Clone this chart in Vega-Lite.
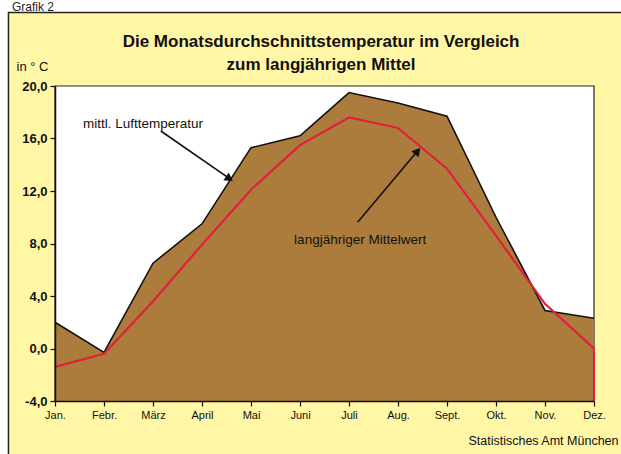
{
  "$schema": "https://vega.github.io/schema/vega-lite/v6.json",
  "width": 539,
  "height": 315,
  "autosize": {"type": "none"},
  "padding": {"left": 55, "top": 86, "right": 27, "bottom": 53},
  "background": "white",
  "datasets": {
    "one": [{}],
    "temps": [
      {"m": 1, "actual": 2.0, "mean": -1.4},
      {"m": 2, "actual": -0.3, "mean": -0.4},
      {"m": 3, "actual": 6.5, "mean": 3.6},
      {"m": 4, "actual": 9.5, "mean": 7.9},
      {"m": 5, "actual": 15.3, "mean": 12.1},
      {"m": 6, "actual": 16.2, "mean": 15.5},
      {"m": 7, "actual": 19.5, "mean": 17.6},
      {"m": 8, "actual": 18.7, "mean": 16.8},
      {"m": 9, "actual": 17.7, "mean": 13.7},
      {"m": 10, "actual": 10.0, "mean": 8.6},
      {"m": 11, "actual": 2.9, "mean": 3.4},
      {"m": 12, "actual": 2.3, "mean": 0.0}
    ],
    "notes": [
      {"m": 1.57, "t": 17.1, "label": "mittl. Lufttemperatur"},
      {"m": 5.88, "t": 8.27, "label": "langjähriger Mittelwert"}
    ],
    "arrows": [
      {"id": "a", "o": 1, "m": 3.16, "t": 16.57},
      {"id": "a", "o": 2, "m": 4.6, "t": 12.85},
      {"id": "b", "o": 1, "m": 7.18, "t": 9.64},
      {"id": "b", "o": 2, "m": 8.42, "t": 15.15}
    ],
    "heads": [
      {"id": "a", "m": 4.56, "t": 12.93},
      {"id": "b", "m": 8.40, "t": 15.04}
    ]
  },
  "layer": [
    {
      "data": {"name": "one"},
      "mark": {"type": "rect", "fill": "#FFF6A6", "stroke": "#222222", "strokeWidth": 1.5, "clip": false},
      "encoding": {
        "x": {"datum": 0.05, "type": "quantitative"},
        "x2": {"datum": 13.5},
        "y": {"datum": 25.6, "type": "quantitative"},
        "y2": {"datum": -10}
      }
    },
    {
      "data": {"name": "one"},
      "mark": {"type": "rect", "fill": "white", "stroke": "#222222", "strokeWidth": 1.2},
      "encoding": {
        "x": {"datum": 1, "type": "quantitative"},
        "x2": {"datum": 12},
        "y": {"datum": 20, "type": "quantitative"},
        "y2": {"datum": -4}
      }
    },
    {
      "data": {"name": "temps"},
      "mark": {"type": "area", "color": "#AC7C3D", "opacity": 1},
      "encoding": {
        "x": {
          "field": "m", "type": "quantitative",
          "scale": {"domain": [1, 12], "nice": false, "zero": false},
          "axis": {
            "values": [1, 2, 3, 4, 5, 6, 7, 8, 9, 10, 11, 12],
            "labelExpr": "['Jan.','Febr.','März','April','Mai','Juni','Juli','Aug.','Sept.','Okt.','Nov.','Dez.'][datum.value-1]",
            "title": "Statistisches Amt München",
            "zindex": 1
          }
        },
        "y": {
          "field": "actual", "type": "quantitative",
          "scale": {"domain": [-4, 20], "nice": false, "zero": false},
          "axis": {
            "values": [-4, 0, 4, 8, 12, 16, 20],
            "labelExpr": "replace(replace(format(datum.value, '.1f'), '.', ','), '−', '-')",
            "title": "in ° C",
            "zindex": 1
          }
        },
        "y2": {"datum": -4}
      }
    },
    {
      "data": {"name": "temps"},
      "mark": {"type": "line", "color": "#111111", "strokeWidth": 1.6},
      "encoding": {
        "x": {"field": "m", "type": "quantitative"},
        "y": {"field": "actual", "type": "quantitative"}
      }
    },
    {
      "data": {"name": "temps"},
      "mark": {"type": "line", "color": "#E0203C", "strokeWidth": 2.2},
      "encoding": {
        "x": {"field": "m", "type": "quantitative"},
        "y": {"field": "mean", "type": "quantitative"}
      }
    },
    {
      "data": {"name": "one"},
      "mark": {"type": "rule", "color": "#E0203C", "strokeWidth": 2},
      "encoding": {
        "x": {"datum": 12, "type": "quantitative"},
        "y": {"datum": 0, "type": "quantitative"},
        "y2": {"datum": -4}
      }
    },
    {
      "data": {"name": "notes"},
      "mark": {"type": "text", "align": "left", "baseline": "middle", "font": "Liberation Sans", "fontSize": 13.5, "color": "#111111"},
      "encoding": {
        "x": {"field": "m", "type": "quantitative"},
        "y": {"field": "t", "type": "quantitative"},
        "text": {"field": "label"}
      }
    },
    {
      "data": {"name": "arrows"},
      "mark": {"type": "line", "color": "#111111", "strokeWidth": 1.6},
      "encoding": {
        "x": {"field": "m", "type": "quantitative"},
        "y": {"field": "t", "type": "quantitative"},
        "detail": {"field": "id"},
        "order": {"field": "o"}
      }
    },
    {
      "data": {"name": "heads"},
      "transform": [{"filter": "datum.id == 'a'"}],
      "mark": {"type": "point", "shape": "triangle-up", "filled": true, "color": "#111111", "opacity": 1, "size": 90, "angle": 125},
      "encoding": {
        "x": {"field": "m", "type": "quantitative"},
        "y": {"field": "t", "type": "quantitative"}
      }
    },
    {
      "data": {"name": "heads"},
      "transform": [{"filter": "datum.id == 'b'"}],
      "mark": {"type": "point", "shape": "triangle-up", "filled": true, "color": "#111111", "opacity": 1, "size": 90, "angle": 40},
      "encoding": {
        "x": {"field": "m", "type": "quantitative"},
        "y": {"field": "t", "type": "quantitative"}
      }
    },
    {
      "data": {"name": "one"},
      "mark": {"type": "text", "text": "Grafik 2", "align": "left", "baseline": "alphabetic", "font": "Liberation Sans", "fontSize": 12, "color": "#222222", "clip": false},
      "encoding": {
        "x": {"datum": 0.12, "type": "quantitative"},
        "y": {"datum": 25.74, "type": "quantitative"}
      }
    },
    {
      "data": {"name": "one"},
      "mark": {"type": "text", "text": ["Die Monatsdurchschnittstemperatur im Vergleich", "zum langjährigen Mittel"], "align": "center", "baseline": "alphabetic", "lineHeight": 23, "font": "Liberation Sans", "fontSize": 17, "fontWeight": "bold", "color": "#111111", "clip": false},
      "encoding": {
        "x": {"datum": 6.43, "type": "quantitative"},
        "y": {"datum": 22.97, "type": "quantitative"}
      }
    }
  ],
  "config": {
    "view": {"stroke": null},
    "font": "Liberation Sans",
    "axis": {
      "grid": false,
      "domainColor": "#111111",
      "domainWidth": 1.5,
      "tickColor": "#111111",
      "tickWidth": 1.2,
      "tickSize": 5,
      "labelColor": "#111111",
      "labelFont": "Liberation Sans",
      "titleFont": "Liberation Sans",
      "titleColor": "#111111",
      "titleFontWeight": "normal",
      "labelOverlap": false,
      "labelFlush": false
    },
    "axisX": {
      "labelFontSize": 11,
      "labelPadding": 3,
      "titleFontSize": 12.5,
      "titleAlign": "right",
      "titleBaseline": "alphabetic",
      "titleX": 563,
      "titleY": 43
    },
    "axisY": {
      "labelFontSize": 13,
      "labelFontWeight": "bold",
      "labelPadding": 3,
      "titleFontSize": 13,
      "titleAngle": 0,
      "titleAlign": "left",
      "titleBaseline": "alphabetic",
      "titleX": -39,
      "titleY": -16
    }
  }
}
